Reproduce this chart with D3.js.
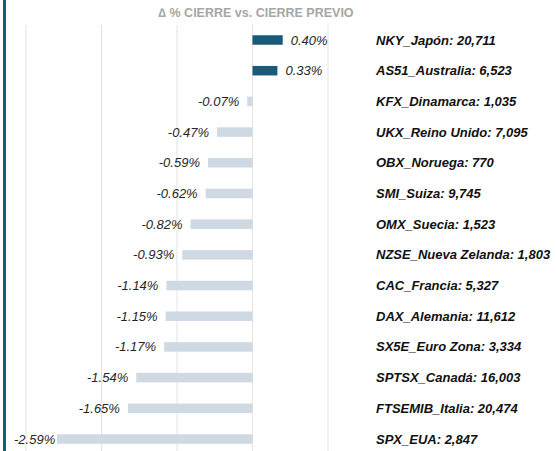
<!DOCTYPE html>
<html>
<head>
<meta charset="utf-8">
<script src="https://cdn.jsdelivr.net/npm/d3@7"></script>
<style>
  body { margin: 0; background: #fff; }
  svg { display: block; font-family: Arial, "Liberation Sans", sans-serif; }
</style>
</head>
<body>
<div id="chart"></div>
<script>
// Data
const names = [
  "NKY_Japón: 20,711", "AS51_Australia: 6,523", "KFX_Dinamarca: 1,035",
  "UKX_Reino Unido: 7,095", "OBX_Noruega: 770", "SMI_Suiza: 9,745",
  "OMX_Suecia: 1,523", "NZSE_Nueva Zelanda: 1,803", "CAC_Francia: 5,327",
  "DAX_Alemania: 11,612", "SX5E_Euro Zona: 3,334", "SPTSX_Canadá: 16,003",
  "FTSEMIB_Italia: 20,474", "SPX_EUA: 2,847"
];
const changes = [0.40, 0.33, -0.07, -0.47, -0.59, -0.62, -0.82, -0.93, -1.14, -1.15, -1.17, -1.54, -1.65, -2.59];
const gridTicks = [-3, -2, -1, 0, 1];

const data = names.map((n, i) => ({ name: n, value: changes[i] }));

const W = 556, H = 451;

const svg = d3.select("#chart")
  .append("svg")
  .attr("width", W)
  .attr("height", H);

// Scales
const x = d3.scaleLinear().domain([-3, 1]).range([26, 328]);
const y = d3.scalePoint().domain(names).range([40, 439]);
const barH = 9.5;

// Left accent border
svg.append("rect")
  .attr("x", 3).attr("y", 0)
  .attr("width", 3).attr("height", H)
  .attr("fill", "#1b5b7a");

// Title
svg.append("text")
  .attr("x", 256)
  .attr("y", 17)
  .attr("text-anchor", "middle")
  .style("font-size", "12.5px")
  .style("font-weight", "bold")
  .attr("fill", "#a6a6a6")
  .text("∆ % CIERRE vs. CIERRE PREVIO");

// Gridlines
svg.selectAll("line.grid")
  .data(gridTicks)
  .join("line")
  .attr("class", "grid")
  .attr("x1", d => x(d)).attr("x2", d => x(d))
  .attr("y1", 25).attr("y2", H)
  .attr("stroke", "#e3e3e3")
  .attr("stroke-width", 1);

// Bars
svg.selectAll("rect.bar")
  .data(data)
  .join("rect")
  .attr("class", "bar")
  .attr("x", d => x(Math.min(0, d.value)))
  .attr("y", d => y(d.name) - barH / 2)
  .attr("width", d => Math.abs(x(d.value) - x(0)))
  .attr("height", barH)
  .attr("fill", d => d.value >= 0 ? "#1a5a79" : "#cfd9e4");

// Value labels
svg.selectAll("text.val")
  .data(data)
  .join("text")
  .attr("class", "val")
  .attr("x", d => d.value >= 0 ? x(d.value) + 8 : x(d.value) - 8)
  .attr("y", d => y(d.name) + 4.5)
  .attr("text-anchor", d => d.value >= 0 ? "start" : "end")
  .style("font-size", "13px")
  .style("font-style", "italic")
  .attr("fill", "#262626")
  .text(d => d.value.toFixed(2) + "%")
  .each(function(d) {
    // keep long negative labels inside the left edge
    if (d.value < 0) {
      const w = this.getComputedTextLength();
      const left = x(d.value) - 8 - w;
      if (left < 14) d3.select(this).attr("x", 14 + w);
    }
  });

// Category labels
svg.selectAll("text.name")
  .data(data)
  .join("text")
  .attr("class", "name")
  .attr("x", 376)
  .attr("y", d => y(d.name) + 4.5)
  .style("font-size", "13px")
  .style("font-style", "italic")
  .style("font-weight", "bold")
  .attr("fill", "#111")
  .text(d => d.name);
</script>
</body>
</html>
